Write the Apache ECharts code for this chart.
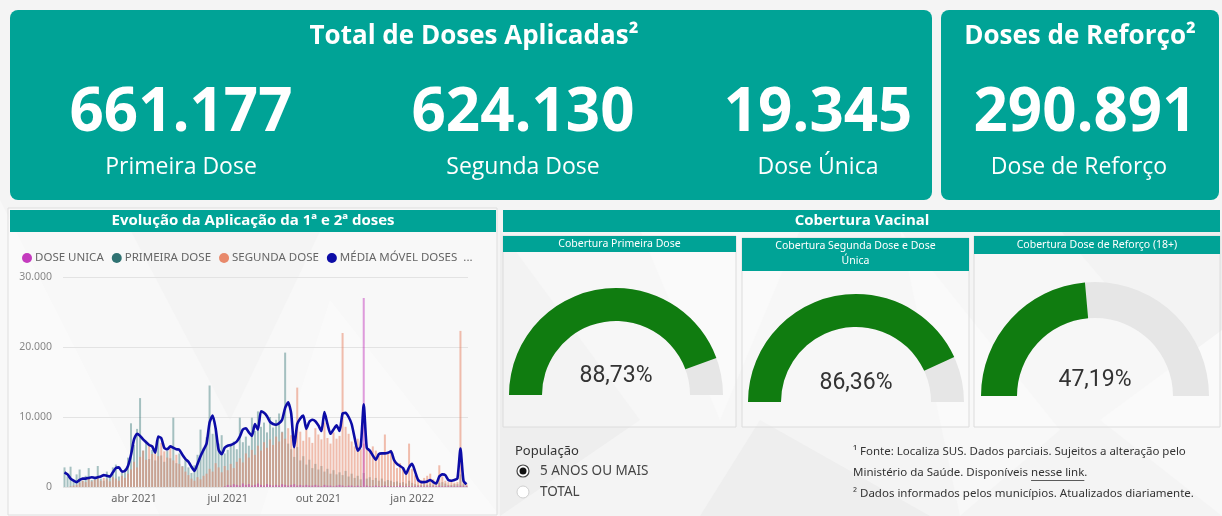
<!DOCTYPE html>
<html>
<head>
<meta charset="utf-8">
<script src="https://cdn.jsdelivr.net/npm/echarts/dist/echarts.min.js"></script>
<style>
  html, body { margin: 0; padding: 0; background: #f4f4f4; }
  #main { width: 1222px; height: 516px; }
</style>
</head>
<body>
<div id="main"></div>
<script>
// ---- Data -------------------------------------------------------------
// Headline totals
const KPI_LABELS = ['Primeira Dose', 'Segunda Dose', 'Dose Única'];
const KPI_VALUES = [661177, 624130, 19345];
const REFORCO_LABEL = 'Dose de Reforço';
const REFORCO_VALUE = 290891;

// Coverage gauges (%)
const GAUGE_TITLES = ['Cobertura Primeira Dose', 'Cobertura Segunda Dose e Dose\nÚnica', 'Cobertura Dose de Reforço (18+)'];
const GAUGE_VALUES = [88.73, 86.36, 47.19];

// Daily series, sampled every STEP_DAYS days from START_DATE
const START_DATE = [2021, 0, 22];
const STEP_DAYS = 3;
const MONTHS_PT = ['jan', 'fev', 'mar', 'abr', 'mai', 'jun', 'jul', 'ago', 'set', 'out', 'nov', 'dez'];
const SERIES_NAMES = ['DOSE UNICA', 'PRIMEIRA DOSE', 'SEGUNDA DOSE', 'MÉDIA MÓVEL DOSES APLICADAS'];
const SERIES_COLORS = ['#C43BBE', '#2F7272', '#E8896B', '#0C0CA6'];

const PRIMEIRA_DOSE = [
  2800,1500,2900,800,1800,2500,900,1600,2700,1000,
  1400,3000,1200,900,2200,1500,2800,3200,1500,2000,
  2600,4200,9100,6000,8300,12700,5200,6600,4000,5300,
  3800,7000,4500,3600,5200,4100,9900,3400,4800,3000,
  4200,2800,2000,3100,4600,8200,5600,7100,14500,7600,
  8100,6200,7400,4800,5300,6100,6500,5400,9900,6400,
  7200,5900,9900,8000,10800,8600,9200,7800,10000,8500,
  9600,10500,7900,19200,6200,5400,4300,5700,3800,4400,
  3200,3900,2700,3300,2500,3000,2200,2600,1900,2400,
  1800,2100,1700,2300,1500,1900,1300,1600,1100,2000,
  1200,1400,1000,1300,900,1200,800,1000,900,700,
  800,600,700,500,900,600,400,300,300,400,
  300,500,300,200,600,700,500,300,300,400,
  400,1800,400,200
];

const SEGUNDA_DOSE = [
  0,0,100,200,300,600,900,700,1200,800,
  1000,1500,900,1300,1100,800,1400,1200,900,1600,
  1300,1900,2500,3600,2800,4300,5200,3900,6000,4700,
  5500,4400,6300,5100,4200,5600,3800,4600,3300,2900,
  2200,1700,1200,900,1400,1100,1600,1900,2600,2200,
  3400,2800,2100,3000,2400,3300,2700,3600,4100,3500,
  4800,4200,5300,4600,5900,5200,6400,5600,6800,6000,
  7200,6500,7800,6900,8400,7400,6100,14200,7900,6600,
  8900,7100,6300,8400,7500,6800,9200,7000,6200,7800,
  6900,7300,22000,8600,7600,6500,5800,6900,5400,6200,
  5600,4900,5800,5200,4500,5000,7500,4800,5300,3900,
  2700,3400,2800,2200,6200,2600,1700,1200,1000,1300,
  1600,1900,1100,800,3100,1500,900,700,800,600,
  700,22300,900,400
];

const DOSE_UNICA = [
  0,0,0,0,0,0,0,0,0,0,
  0,0,0,0,0,0,0,0,0,0,
  0,0,0,0,0,0,0,0,0,0,
  0,0,0,0,0,0,0,0,0,0,
  0,0,0,0,0,0,0,0,0,0,
  0,0,0,100,300,200,400,300,200,500,
  300,400,200,300,500,300,200,400,300,200,
  300,200,400,300,200,300,400,200,300,200,
  300,200,200,300,200,100,300,200,200,100,
  200,300,200,100,200,200,100,200,100,27000,
  200,100,100,200,100,100,200,100,100,100,
  100,200,100,100,100,100,100,100,100,100,
  100,100,100,100,200,100,100,100,100,100,
  100,200,100,100
];

const MEDIA_MOVEL = [
  2100,1800,1200,900,700,1000,1200,1200,1300,1400,
  1300,1400,1500,1700,1600,1500,2100,2700,2800,2200,
  2300,3000,4600,6800,7600,7300,6800,6400,6000,5800,
  4900,7200,7000,5600,5400,5800,5600,5400,5300,4600,
  4000,3600,2900,2300,3300,4400,5300,6200,9200,10200,
  8400,5300,4700,5600,5900,6000,6200,6500,7200,8200,
  8400,7800,7300,9000,8200,10800,10600,10100,9300,9000,
  8900,9100,9600,11300,12100,10500,5700,9000,9800,10200,
  8300,9300,9600,9400,8800,8000,10700,9000,7600,8200,
  8800,8000,10500,10600,10000,9000,7000,5200,5800,11800,
  5600,5200,4500,3900,4700,4800,4800,4900,5100,3900,
  3300,3000,2700,1900,2800,3300,2200,1000,700,700,
  800,1000,700,500,1500,1800,1700,1000,900,1000,
  1200,5500,900,400
];

// ---- Helpers ----------------------------------------------------------
const DAY_MS = 86400000;
const startMs = Date.UTC(START_DATE[0], START_DATE[1], START_DATE[2]);
const DATES = PRIMEIRA_DOSE.map((_, i) => new Date(startMs + i * STEP_DAYS * DAY_MS).toISOString().slice(0, 10));

function fmtThousands(v) {
  return String(Math.round(v)).replace(/\B(?=(\d{3})+(?!\d))/g, '.');
}
function isQuarterStart(dateStr) {
  const m = +dateStr.slice(5, 7) - 1;
  const d = +dateStr.slice(8, 10);
  return m % 3 === 0 && d <= STEP_DAYS;
}

const TEAL = '#00A396';
const FONT = '"Open Sans", "Noto Sans", sans-serif';
const FONT_SMALL = '"Noto Sans", "Open Sans", sans-serif';

const measureCtx = document.createElement('canvas').getContext('2d');
function textWidth(str, size, family) {
  measureCtx.font = size + 'px ' + family;
  return measureCtx.measureText(str).width;
}

function rect(x, y, w, h, fill, opts) {
  opts = opts || {};
  return {
    type: 'rect', z: opts.z != null ? opts.z : 0, silent: true,
    shape: { x: x, y: y, width: w, height: h, r: opts.r || 0 },
    style: { fill: fill, stroke: opts.stroke || null, lineWidth: opts.lineWidth || 1 }
  };
}
function text(str, x, y, size, color, opts) {
  opts = opts || {};
  return {
    type: 'text', z: 20, silent: true, x: x, y: y,
    style: {
      text: str, fill: color, fontSize: size,
      fontWeight: opts.weight || 'normal',
      fontFamily: opts.family || FONT,
      align: opts.align || 'center',
      verticalAlign: opts.valign || 'middle',
      lineHeight: opts.lineHeight || null
    }
  };
}

// ---- Layout graphics --------------------------------------------------
const elements = [];

// subtle geometric background
const TRI = [
  [[0, 200], [160, 516], [0, 516]],
  [[120, 210], [330, 210], [230, 420]],
  [[330, 300], [500, 516], [260, 516]],
  [[500, 230], [640, 420], [500, 516]],
  [[640, 230], [800, 230], [720, 420]],
  [[760, 420], [930, 516], [700, 516]],
  [[900, 230], [1060, 430], [960, 516]],
  [[1060, 230], [1222, 230], [1222, 420]],
  [[1100, 420], [1222, 330], [1222, 516]]
];
TRI.forEach((pts, k) => elements.push({
  type: 'polygon', z: -5, silent: true, shape: { points: pts },
  style: { fill: k % 2 ? '#eeeeee' : '#f8f8f8' }
}));

// headline cards
elements.push(rect(10, 10, 922, 190, TEAL, { r: 8 }));
elements.push(rect(941, 10, 278, 190, TEAL, { r: 8 }));
elements.push(text('Total de Doses Aplicadas²', 474, 37, 26, '#fff', { weight: 'bold' }));
elements.push(text('Doses de Reforço²', 1080, 37, 26, '#fff', { weight: 'bold' }));
const KPI_X = [181, 523, 818];
KPI_VALUES.forEach((v, i) => {
  elements.push(text(fmtThousands(v), KPI_X[i], 114, 60, '#fff', { weight: 'bold' }));
  elements.push(text(KPI_LABELS[i], KPI_X[i], 167, 23, '#fff'));
});
elements.push(text(fmtThousands(REFORCO_VALUE), 1085, 114, 60, '#fff', { weight: 'bold' }));
elements.push(text(REFORCO_LABEL, 1079, 167, 23, '#fff'));

// line/bar panel
elements.push(rect(8, 208, 489, 307, 'rgba(255,255,255,0.35)', { stroke: '#dedede' }));
elements.push(rect(10, 210, 486, 22, TEAL));
elements.push(text('Evolução da Aplicação da 1ª e 2ª doses', 253, 221, 15, '#fff', { weight: 'bold' }));

// coverage panel
elements.push(rect(503, 210, 717, 22, TEAL));
elements.push(text('Cobertura Vacinal', 862, 221, 15, '#fff', { weight: 'bold' }));
const PANELS = [
  { x: 503, y: 236, w: 233, h: 191, hh: 16 },
  { x: 742, y: 238, w: 227, h: 189, hh: 33 },
  { x: 974, y: 236, w: 246, h: 191, hh: 18 }
];
PANELS.forEach((p, i) => {
  elements.push(rect(p.x, p.y, p.w, p.h, 'rgba(255,255,255,0.3)', { stroke: '#dcdcdc' }));
  elements.push(rect(p.x, p.y, p.w, p.hh, TEAL, { z: 1 }));
  elements.push(text(GAUGE_TITLES[i], p.x + p.w / 2, p.y + (i === 1 ? 16 : p.hh / 2), 10.5, '#fff',
    { family: FONT_SMALL, lineHeight: 15 }));
});

// population slicer
elements.push(text('População', 515, 451, 13, '#333', { align: 'left', family: FONT_SMALL }));
elements.push({ type: 'circle', z: 20, silent: true, shape: { cx: 523, cy: 471, r: 6 }, style: { fill: '#fff', stroke: '#444', lineWidth: 1.2 } });
elements.push({ type: 'circle', z: 21, silent: true, shape: { cx: 523, cy: 471, r: 3.5 }, style: { fill: '#111' } });
elements.push(text('5 ANOS OU MAIS', 540, 471, 13.5, '#444', { align: 'left', family: FONT_SMALL }));
elements.push({ type: 'circle', z: 20, silent: true, shape: { cx: 523, cy: 492, r: 6 }, style: { fill: '#fff', stroke: '#d0d0d0', lineWidth: 1 } });
elements.push(text('TOTAL', 540, 492, 13.5, '#444', { align: 'left', family: FONT_SMALL }));

// footnotes
const NOTE_SIZE = 11.5;
const NOTE_X = 853;
elements.push(text('¹ Fonte: Localiza SUS. Dados parciais. Sujeitos a alteração pelo', NOTE_X, 452, NOTE_SIZE, '#333', { align: 'left', family: FONT_SMALL }));
const noteLead = 'Ministério da Saúde. Disponíveis ';
const linkText = 'nesse link';
const linkX = NOTE_X + textWidth(noteLead, NOTE_SIZE, FONT_SMALL);
const linkW = textWidth(linkText, NOTE_SIZE, FONT_SMALL);
elements.push(text(noteLead, NOTE_X, 473, NOTE_SIZE, '#333', { align: 'left', family: FONT_SMALL }));
elements.push(text(linkText, linkX, 473, NOTE_SIZE, '#333', { align: 'left', family: FONT_SMALL }));
elements.push({ type: 'line', z: 20, silent: true, shape: { x1: linkX, y1: 480.5, x2: linkX + linkW, y2: 480.5 }, style: { stroke: '#333', lineWidth: 0.8 } });
elements.push(text('.', linkX + linkW, 473, NOTE_SIZE, '#333', { align: 'left', family: FONT_SMALL }));
elements.push(text('² Dados informados pelos municípios. Atualizados diariamente.', NOTE_X, 494, NOTE_SIZE, '#333', { align: 'left', family: FONT_SMALL }));

// ---- Gauges -----------------------------------------------------------
const GAUGE_GEOM = [
  { c: [616, 395], r: 107, w: 33, off: -19 },
  { c: [856, 402], r: 108, w: 33, off: -19 },
  { c: [1095, 396], r: 114, w: 36, off: -16 }
];
const gaugeSeries = GAUGE_VALUES.map((v, i) => ({
  type: 'gauge',
  center: GAUGE_GEOM[i].c,
  radius: GAUGE_GEOM[i].r,
  startAngle: 180, endAngle: 0,
  min: 0, max: 100,
  z: 5,
  progress: { show: true, width: GAUGE_GEOM[i].w, roundCap: false, itemStyle: { color: '#107C10' } },
  axisLine: { roundCap: false, lineStyle: { width: GAUGE_GEOM[i].w, color: [[1, '#E6E6E6']] } },
  pointer: { show: false }, anchor: { show: false },
  axisTick: { show: false }, splitLine: { show: false }, axisLabel: { show: false },
  title: { show: false },
  detail: {
    offsetCenter: [0, GAUGE_GEOM[i].off],
    formatter: (val) => val.toFixed(2).replace('.', ',') + '%',
    fontSize: 23, color: '#333', fontFamily: 'Roboto, sans-serif', fontWeight: 'normal'
  },
  data: [{ value: v }]
}));

// ---- Chart ------------------------------------------------------------
const chart = echarts.init(document.getElementById('main'), null, { renderer: 'canvas' });
chart.setOption({
  animation: false,
  backgroundColor: '#f4f4f4',
  graphic: { elements: elements },
  legend: {
    data: SERIES_NAMES.map((n, i) => ({ name: n, itemStyle: { color: SERIES_COLORS[i], opacity: 1 } })),
    left: 17, top: 247,
    icon: 'circle', itemWidth: 10, itemHeight: 10, itemGap: 8,
    textStyle: { fontSize: 11.5, color: '#666', fontFamily: FONT_SMALL, padding: [0, 0, 0, -2] },
    formatter: (name) => name.length > 20 ? name.slice(0, 18) + ' ...' : name,
    selectedMode: false
  },
  grid: { left: 63, right: 754, top: 277, bottom: 29, containLabel: false },
  xAxis: {
    type: 'category',
    data: DATES,
    boundaryGap: true,
    axisLine: { show: false }, axisTick: { show: false },
    axisLabel: {
      interval: (idx, val) => isQuarterStart(val),
      formatter: (val) => MONTHS_PT[+val.slice(5, 7) - 1] + ' ' + val.slice(0, 4),
      color: '#666', fontSize: 11, margin: 6, fontFamily: FONT_SMALL
    }
  },
  yAxis: {
    type: 'value', min: 0, max: 30000, interval: 10000,
    axisLine: { show: false }, axisTick: { show: false },
    axisLabel: { formatter: fmtThousands, color: '#888', fontSize: 10.5, margin: 11, fontFamily: FONT_SMALL },
    splitLine: { lineStyle: { color: '#e3e3e3' } }
  },
  series: [
    { name: SERIES_NAMES[1], type: 'bar', data: PRIMEIRA_DOSE, barWidth: 2, barGap: '-100%',
      itemStyle: { color: SERIES_COLORS[1], opacity: 0.42 }, z: 2 },
    { name: SERIES_NAMES[2], type: 'bar', data: SEGUNDA_DOSE, barWidth: 2, barGap: '-100%',
      itemStyle: { color: SERIES_COLORS[2], opacity: 0.55 }, z: 2 },
    { name: SERIES_NAMES[0], type: 'bar', data: DOSE_UNICA, barWidth: 2, barGap: '-100%',
      itemStyle: { color: SERIES_COLORS[0], opacity: 0.5 }, z: 2 },
    { name: SERIES_NAMES[3], type: 'line', data: MEDIA_MOVEL, smooth: 0.2, symbol: 'none',
      lineStyle: { color: SERIES_COLORS[3], width: 2.6 }, itemStyle: { color: SERIES_COLORS[3] }, z: 3 }
  ].concat(gaugeSeries)
});
</script>
</body>
</html>
